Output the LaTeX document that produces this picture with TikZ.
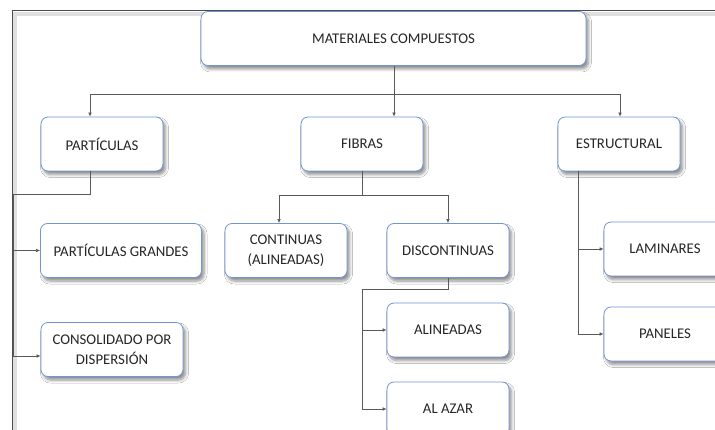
\documentclass[tikz,border=0pt]{standalone}
\usepackage{fontspec}
\setmainfont{Carlito}
\usetikzlibrary{arrows.meta,shadows.blur}
\definecolor{boxline}{HTML}{7295D6}
\definecolor{txt}{HTML}{262626}
\definecolor{lin}{HTML}{595959}
\tikzset{
  box/.style={draw=boxline, line width=0.8pt, fill=white, rounded corners=7pt,
    minimum width=122pt, minimum height=54pt, inner sep=2pt, align=center,
    text=txt, font=\fontsize{14.8}{19.5}\selectfont,
    blur shadow={shadow xshift=2.5pt, shadow yshift=-3.5pt, shadow blur steps=6, shadow blur radius=3pt, shadow opacity=45}},
  conn/.style={draw=lin, line width=0.6pt},
  arr/.style={conn, -{Latex[length=4pt,width=3.6pt]}},
  frame/.style={draw=black!70, line width=1pt}
}
\begin{document}
\begin{tikzpicture}[x=1pt,y=-1pt]
\useasboundingbox (0,0) rectangle (715,430);
\clip (0,0) rectangle (715,430);
\fill[white] (0,0) rectangle (715,430);
% frame
\draw[black!12, line width=4pt] (15,430) -- (15,14) -- (715,14);
\draw[frame] (12,430) -- (12,11) -- (715,11);
% nodes
\node[box, minimum width=385pt] (top) at (393.5,38.5) {MATERIALES COMPUESTOS};
\node[box] (part) at (102,144) {PARTÍCULAS};
\node[box] (fib) at (362,144) {FIBRAS};
\node[box] (estr) at (619,144) {ESTRUCTURAL};
\node[box, minimum width=161pt] (pg) at (121,250.5) {PARTÍCULAS GRANDES};
\node[box, minimum width=142pt] (cd) at (112,349.5) {CONSOLIDADO POR\\DISPERSIÓN};
\node[box] (cont) at (286,250.5) {CONTINUAS\\(ALINEADAS)};
\node[box] (disc) at (448,250.5) {DISCONTINUAS};
\node[box] (ali) at (448,330) {ALINEADAS};
\node[box] (azar) at (448,409) {AL AZAR};
\node[box] (lam) at (665,249) {LAMINARES};
\node[box] (pan) at (665,334) {PANELES};
% junction coordinates
\coordinate (jL) at (90,94);
\coordinate (jR) at (620,94);
\coordinate (pL) at (13,194);
\coordinate (pB) at (13,356);
\coordinate (fL) at (279,195);
\coordinate (fR) at (448,195);
\coordinate (dL) at (362,289);
\coordinate (dB) at (362,409);
\coordinate (eT) at (578,171);
\coordinate (eB) at (578,334);
% connectors level 1
\draw[conn] (jL) -- (jR);
\draw[arr] (top.south -| 394,0) -- (394,0 |- fib.north);
\draw[arr] (jL) -- (jL |- part.north);
\draw[arr] (jR) -- (jR |- estr.north);
% particulas
\draw[conn] (jL |- part.south) -- (jL |- pL) -- (pL) -- (pB);
\draw[arr] (pL |- pg.west) -- (pg.west);
\draw[arr] (pB) -- (pB -| cd.west);
% fibras
\draw[conn] (fib.south) -- (fib.south |- fL);
\draw[conn] (fL) -- (fR);
\draw[arr] (fL) -- (fL |- cont.north);
\draw[arr] (fR) -- (disc.north);
% discontinuas
\draw[conn] (disc.south) -- (disc.south |- dL) -- (dL) -- (dB);
\draw[arr] (dL |- ali.west) -- (ali.west);
\draw[arr] (dB) -- (azar.west);
% estructural
\draw[conn] (eT) -- (eB);
\draw[arr] (eT |- lam.west) -- (lam.west);
\draw[arr] (eB) -- (pan.west);
\end{tikzpicture}
\end{document}
